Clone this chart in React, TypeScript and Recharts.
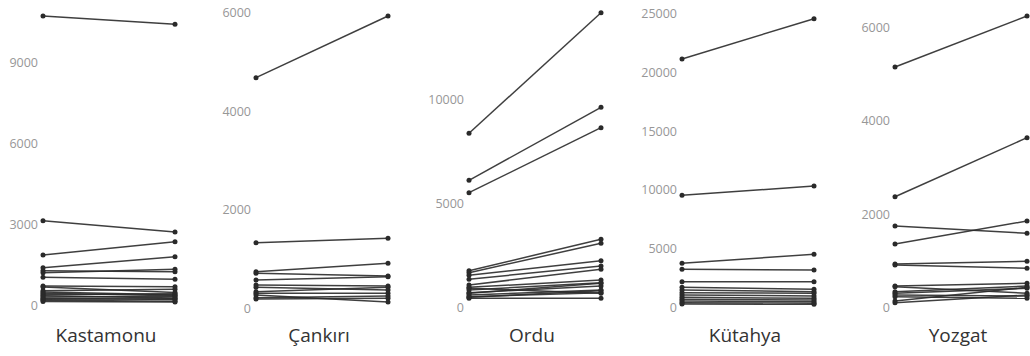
import React from "react";
import { LineChart, Line, XAxis, YAxis } from "recharts";

const categories = ["first", "second"];
const panelNames = ["Kastamonu", "Çankırı", "Ordu", "Kütahya", "Yozgat"];

const kastamonuFirst = [10725, 3155, 1886, 1416, 1306, 1232, 1061, 740, 700, 560, 520, 470, 420, 380, 330, 290, 250, 210, 170];
const kastamonuSecond = [10418, 2737, 2378, 1823, 1269, 1357, 987, 714, 500, 620, 420, 380, 450, 300, 350, 240, 270, 180, 150];

const cankiriFirst = [4683, 1332, 743, 711, 575, 473, 426, 337, 304, 270, 216, 189];
const cankiriSecond = [5935, 1421, 914, 656, 642, 453, 372, 426, 304, 128, 250, 203];

const orduFirst = [8390, 6123, 5526, 1765, 1668, 1543, 1350, 1075, 964, 834, 704, 593, 511, 916, 434, 675, 482];
const orduSecond = [14205, 9643, 8660, 3279, 3086, 2247, 1991, 1832, 1316, 1186, 1027, 834, 704, 675, 434, 1157, 800];

const kutahyaFirst = [21164, 9546, 3750, 3239, 2182, 1705, 1475, 1244, 1048, 852, 682, 537, 392, 281];
const kutahyaSecond = [24600, 10339, 4517, 3179, 2182, 1534, 1330, 1193, 963, 767, 622, 477, 341, 256];

const yozgatFirst = [5157, 2373, 1745, 1358, 929, 908, 457, 442, 335, 300, 264, 227, 135, 99];
const yozgatSecond = [6251, 3640, 1588, 1852, 987, 837, 515, 300, 457, 408, 242, 193, 429, 264];

const kastamonuTicks = [0, 3000, 6000, 9000];
const cankiriTicks = [0, 2000, 4000, 6000];
const orduTicks = [0, 5000, 10000];
const kutahyaTicks = [0, 5000, 10000, 15000, 20000, 25000];
const yozgatTicks = [0, 2000, 4000, 6000];

const panels = [
  { name: panelNames[0], first: kastamonuFirst, second: kastamonuSecond, ticks: kastamonuTicks, domain: [-222, 10948] },
  { name: panelNames[1], first: cankiriFirst, second: cankiriSecond, ticks: cankiriTicks, domain: [-75, 6057] },
  { name: panelNames[2], first: orduFirst, second: orduSecond, ticks: orduTicks, domain: [-227, 14335] },
  { name: panelNames[3], first: kutahyaFirst, second: kutahyaSecond, ticks: kutahyaTicks, domain: [-401, 25341] },
  { name: panelNames[4], first: yozgatFirst, second: yozgatSecond, ticks: yozgatTicks, domain: [-101, 6380] },
];

const PANEL_STEP = 213;
const AXIS_W = 43;
const PLOT_W = 132;
const FONT = "'Open Sans', 'DejaVu Sans', sans-serif";

function buildRows(first: number[], second: number[]) {
  return categories.map((cat, ci) => {
    const row: Record<string, any> = { cat };
    const src = ci === 0 ? first : second;
    src.forEach((v, i) => {
      row[`s${i}`] = v;
    });
    return row;
  });
}

function Panel({ p, index }: { p: any; index: number }) {
  const rows = buildRows(p.first, p.second);
  return (
    <div style={{ position: "absolute", left: index * PANEL_STEP, top: 0, width: PANEL_STEP, height: 356 }}>
      <LineChart
        width={PANEL_STEP}
        height={356}
        data={rows}
        margin={{ top: 10, right: PANEL_STEP - AXIS_W - PLOT_W, bottom: 44, left: 0 }}
      >
        <XAxis dataKey="cat" hide />
        <YAxis
          width={AXIS_W}
          type="number"
          domain={p.domain}
          ticks={p.ticks}
          allowDataOverflow
          axisLine={false}
          tickLine={false}
          tickSize={3}
          tickMargin={2}
          interval={0}
          tick={{ fill: "#979797", fontSize: 12.5, fontFamily: FONT }}
        />
        {p.first.map((_: number, i: number) => (
          <Line
            key={i}
            type="linear"
            dataKey={`s${i}`}
            stroke="#2a2a2a"
            strokeWidth={1.5}
            strokeOpacity={0.9}
            dot={{ r: 2.5, fill: "#2a2a2a", stroke: "#2a2a2a", strokeWidth: 0 }}
            activeDot={false}
            isAnimationActive={false}
          />
        ))}
      </LineChart>
      <div
        style={{
          position: "absolute",
          left: AXIS_W - 3,
          width: PLOT_W,
          top: 323,
          textAlign: "center",
          fontFamily: FONT,
          fontSize: 19,
          lineHeight: "24px",
          color: "#333",
        }}
      >
        {p.name}
      </div>
    </div>
  );
}

export default function App() {
  return (
    <div
      style={{
        position: "absolute",
        left: 0,
        top: 0,
        width: 1030,
        height: 356,
        overflow: "hidden",
        background: "#fff",
        fontFamily: FONT,
      }}
    >
      {panels.map((p, i) => (
        <Panel key={p.name} p={p} index={i} />
      ))}
    </div>
  );
}
